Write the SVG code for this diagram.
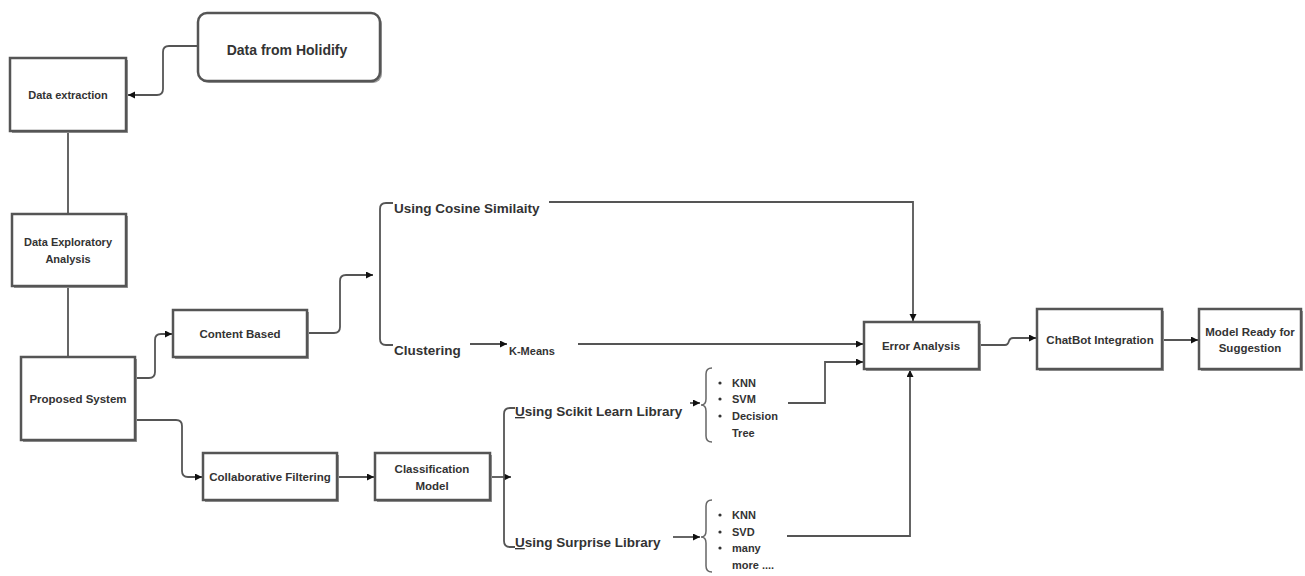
<svg xmlns="http://www.w3.org/2000/svg" width="1305" height="576" viewBox="0 0 1305 576">
<defs>
<marker id="arr" markerUnits="userSpaceOnUse" markerWidth="8" markerHeight="8" refX="7" refY="3.5" orient="auto">
<path d="M0,0 L7,3.5 L0,7 z" fill="#111"/>
</marker>
<style>
.box{fill:#fff;stroke:#555;stroke-width:2.5}
.sh{fill:#9a9a9a;stroke:none}
.t{font-family:"Liberation Sans",Arial,sans-serif;font-weight:bold;fill:#333;font-size:11.5px;text-anchor:middle}
.ft{font-family:"Liberation Sans",Arial,sans-serif;font-weight:bold;fill:#333;font-size:13.5px}
.li{font-family:"Liberation Sans",Arial,sans-serif;font-weight:bold;fill:#333;font-size:11px}
.c{fill:none;stroke:#555;stroke-width:1.8}
.ca{fill:none;stroke:#555;stroke-width:1.8;marker-end:url(#arr)}
.br{fill:none;stroke:#666;stroke-width:1.5}
</style>
</defs>
<rect width="1305" height="576" fill="#fff"/>

<g id="connectors">
<path class="ca" d="M198,46 H169 Q163,46 163,52 V89 Q163,95 157,95 H128"/>
<path class="c" d="M68,132 V214"/>
<path class="c" d="M68,286 V357"/>
<path class="ca" d="M135,378 H149 Q155,378 155,372 V340 Q155,334 161,334 H172"/>
<path class="ca" d="M135,420 H176 Q182,420 182,426 V471 Q182,477 188,477 H202"/>
<path class="ca" d="M307,333 H334 Q340,333 340,327 V281 Q340,275 346,275 H373"/>
<path class="c" d="M393,203 H386 Q380,203 380,209 V339 Q380,345 386,345 H393"/>
<path class="ca" d="M549,202 H913 V321"/>
<path class="ca" d="M470,344 H507"/>
<path class="ca" d="M578,344 H863"/>
<path class="ca" d="M788,403 H825 V362 H863"/>
<path class="ca" d="M787,536 H910 V370"/>
<path class="ca" d="M337,477 H374"/>
<path class="ca" d="M490,477 H511"/>
<path class="c" d="M515,408 H510 Q504,408 504,414 V541 Q504,547 510,547 H515"/>
<path class="ca" d="M690,403 H700"/>
<path class="ca" d="M673,537 H700"/>
<path class="ca" d="M979,345 H1005 Q1008,345 1009,341 Q1010,338 1013,338 H1036"/>
<path class="ca" d="M1162,340 H1198"/>
</g>

<g id="holidify">
<rect class="sh" x="200" y="15" width="182" height="68" rx="9"/>
<rect class="box" x="198" y="13" width="182" height="68" rx="9" stroke-width="3"/>
<text class="t" x="287" y="55" style="font-size:14px">Data from Holidify</text>
</g>
<g id="data-extraction">
<rect class="sh" x="12" y="60" width="116" height="73"/>
<rect class="box" x="10" y="58" width="116" height="73"/>
<text class="t" x="68" y="99" style="font-size:11px">Data extraction</text>
</g>
<g id="data-exploratory">
<rect class="sh" x="14" y="216" width="114" height="72"/>
<rect class="box" x="12" y="214" width="114" height="72"/>
<text class="t" x="68" y="246" style="font-size:11px">Data Exploratory</text>
<text class="t" x="68" y="263" style="font-size:11px">Analysis</text>
</g>
<g id="proposed-system">
<rect class="sh" x="23" y="359" width="114" height="83"/>
<rect class="box" x="21" y="357" width="114" height="83"/>
<text class="t" x="78" y="403">Proposed System</text>
</g>
<g id="content-based">
<rect class="sh" x="175" y="312" width="134" height="47"/>
<rect class="box" x="173" y="310" width="134" height="47"/>
<text class="t" x="240" y="338">Content Based</text>
</g>
<g id="collaborative-filtering">
<rect class="sh" x="205" y="455" width="134" height="47"/>
<rect class="box" x="203" y="453" width="134" height="47"/>
<text class="t" x="270" y="481">Collaborative Filtering</text>
</g>
<g id="classification-model">
<rect class="sh" x="377" y="455" width="115" height="47"/>
<rect class="box" x="375" y="453" width="115" height="47"/>
<text class="t" x="432" y="473">Classification</text>
<text class="t" x="432" y="490">Model</text>
</g>
<g id="cosine">
<text class="ft" x="394" y="213">Using Cosine Similaity</text>
</g>
<g id="clustering">
<text class="ft" x="394" y="355">Clustering</text>
</g>
<g id="kmeans">
<text class="li" x="509" y="355">K-Means</text>
</g>
<g id="scikit">
<text class="ft" x="515" y="416"><tspan text-decoration="underline">U</tspan>sing Scikit Learn Library</text>
</g>
<g id="surprise">
<text class="ft" x="515" y="547"><tspan text-decoration="underline">U</tspan>sing Surprise Library</text>
</g>
<g id="scikit-list">
<path class="br" d="M712,368 Q706,368 706,374 V399 Q706,405 701,405 Q706,405 706,411 V436 Q706,442 712,442"/>
<circle cx="720" cy="383" r="1.6" fill="#333"/>
<circle cx="720" cy="399" r="1.6" fill="#333"/>
<circle cx="720" cy="416" r="1.6" fill="#333"/>
<text class="li" x="732" y="387">KNN</text>
<text class="li" x="732" y="403">SVM</text>
<text class="li" x="732" y="420">Decision</text>
<text class="li" x="732" y="437">Tree</text>
</g>
<g id="surprise-list">
<path class="br" d="M712,500 Q706,500 706,506 V531 Q706,537 701,537 Q706,537 706,543 V566 Q706,572 712,572"/>
<circle cx="720" cy="515" r="1.6" fill="#333"/>
<circle cx="720" cy="532" r="1.6" fill="#333"/>
<circle cx="720" cy="548" r="1.6" fill="#333"/>
<text class="li" x="732" y="519">KNN</text>
<text class="li" x="732" y="536">SVD</text>
<text class="li" x="732" y="552">many</text>
<text class="li" x="732" y="569">more ....</text>
</g>
<g id="error-analysis">
<rect class="sh" x="866" y="324" width="115" height="47"/>
<rect class="box" x="864" y="322" width="115" height="47"/>
<text class="t" x="921" y="350">Error Analysis</text>
</g>
<g id="chatbot">
<rect class="sh" x="1039" y="311" width="125" height="60"/>
<rect class="box" x="1037" y="309" width="125" height="60"/>
<text class="t" x="1100" y="344">ChatBot Integration</text>
</g>
<g id="model-ready">
<rect class="sh" x="1201" y="311" width="102" height="60"/>
<rect class="box" x="1199" y="309" width="102" height="60"/>
<text class="t" x="1250" y="336">Model Ready for</text>
<text class="t" x="1250" y="352">Suggestion</text>
</g>
</svg>
